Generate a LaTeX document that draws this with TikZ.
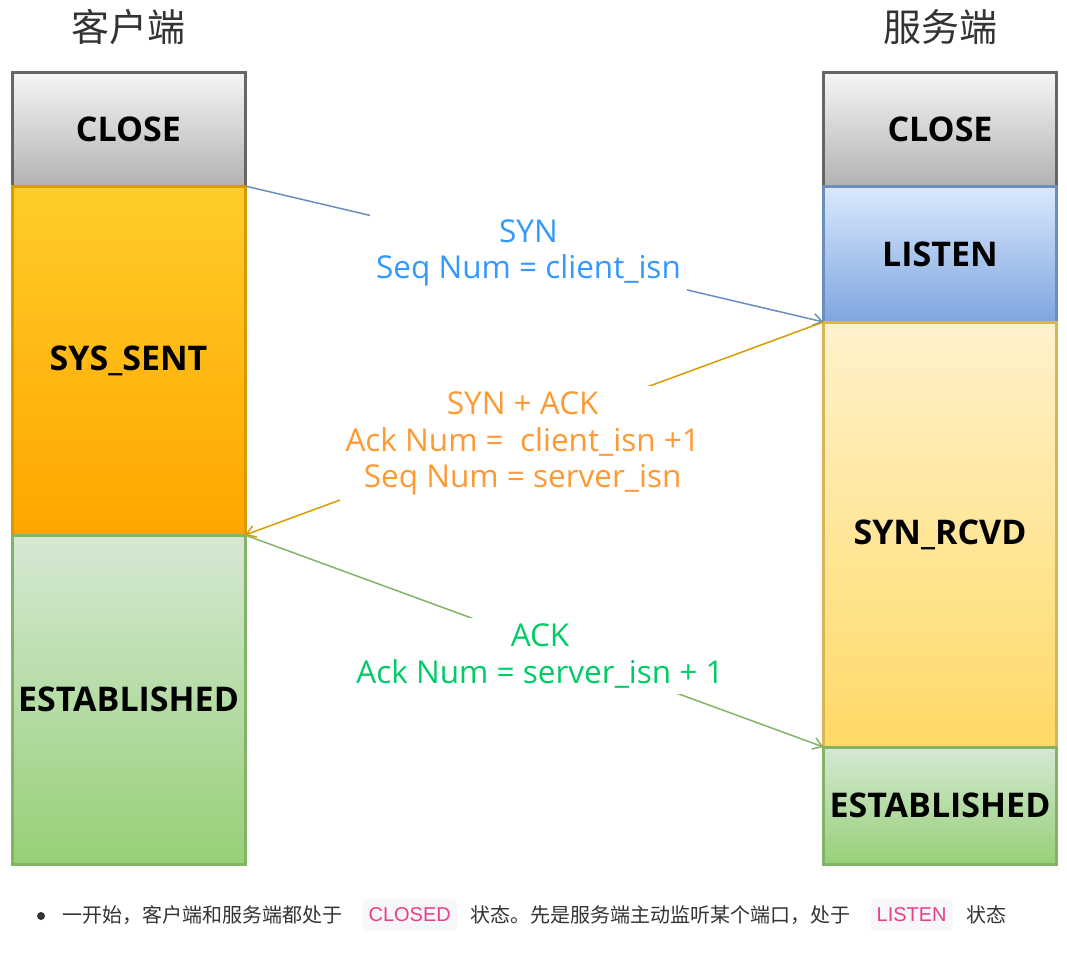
\documentclass[tikz,border=0pt]{standalone}
\usepackage{fontspec}
\setmainfont{Open Sans}
\newfontfamily\cjkfont{Noto Sans CJK SC}
\newfontfamily\codefont{Liberation Sans}
\usetikzlibrary{arrows.meta, positioning}

\definecolor{closetop}{HTML}{F5F5F5}
\definecolor{closebot}{HTML}{B3B3B3}
\definecolor{closeline}{HTML}{666666}
\definecolor{senttop}{HTML}{FFCD28}
\definecolor{sentbot}{HTML}{FFA500}
\definecolor{sentline}{HTML}{D79B00}
\definecolor{listentop}{HTML}{DAE8FC}
\definecolor{listenbot}{HTML}{7EA6E0}
\definecolor{listenline}{HTML}{6C8EBF}
\definecolor{rcvdtop}{HTML}{FFF2CC}
\definecolor{rcvdbot}{HTML}{FFD966}
\definecolor{rcvdline}{HTML}{D6B656}
\definecolor{esttop}{HTML}{D5E8D4}
\definecolor{estbot}{HTML}{97D077}
\definecolor{estline}{HTML}{82B366}
\definecolor{synblue}{HTML}{3399FF}
\definecolor{synackorange}{HTML}{FF9933}
\definecolor{ackgreen}{HTML}{00CC66}
\definecolor{inktext}{HTML}{333333}
\definecolor{codepink}{HTML}{E83E8C}
\definecolor{codebg}{HTML}{F7F7F9}

\begin{document}
\begin{tikzpicture}[x=1pt, y=-1pt,
  state/.style={rectangle, draw, line width=3pt, outer sep=0pt,
                minimum width=233pt, font=\fontsize{34}{38}\selectfont\bfseries},
  closebox/.style={top color=closetop, bottom color=closebot, draw=closeline},
  sentbox/.style={top color=senttop, bottom color=sentbot, draw=sentline},
  listenbox/.style={top color=listentop, bottom color=listenbot, draw=listenline},
  rcvdbox/.style={top color=rcvdtop, bottom color=rcvdbot, draw=rcvdline},
  estbox/.style={top color=esttop, bottom color=estbot, draw=estline},
  msg/.style={-{Straight Barb[length=9pt, width=12pt]}, line width=1.5pt},
  msglabel/.style={fill=white, align=center, inner sep=6pt,
                   font=\fontsize{31.5}{36.5}\selectfont},
  title/.style={font=\cjkfont\fontsize{38}{42}\selectfont, text=inktext},
  note/.style={font=\cjkfont\fontsize{20}{24}\selectfont, text=inktext, inner sep=0pt},
  codebox/.style={font=\codefont\fontsize{20}{24}\selectfont, text=codepink, fill=codebg,
                  rounded corners=5pt, inner xsep=6pt, minimum height=32pt}
]
\useasboundingbox (0,0) rectangle (1067,958);

% titles
\node[title] (ctitle) at (128,27) {客户端};
\node[title] (stitle) at (940,27) {服务端};

% client states
\node[state, closebox, minimum height=114pt] (cclose) at (128.5,129) {CLOSE};
\node[state, sentbox, minimum height=349pt, below=0pt of cclose] (csent) {SYS\_SENT};
\node[state, estbox, minimum height=329pt, below=0pt of csent] (cest) {ESTABLISHED};

% server states
\node[state, closebox, minimum height=114pt] (sclose) at (940,129) {CLOSE};
\node[state, listenbox, minimum height=136pt, below=0pt of sclose] (slisten) {LISTEN};
\node[state, rcvdbox, minimum height=425pt, below=0pt of slisten] (srcvd) {SYN\_RCVD};
\node[state, estbox, minimum height=117pt, below=0pt of srcvd] (sest) {ESTABLISHED};

% handshake
\draw[msg, listenline] (cclose.south east) -- node[msglabel, text=synblue, pos=0.49] (synlbl)
  {SYN\\Seq Num = client\_isn} (slisten.south west);
\draw[msg, sentline] (srcvd.north west) -- node[msglabel, text=synackorange, pos=0.52, yshift=-11pt] (synacklbl)
  {SYN + ACK\\Ack Num = \ client\_isn +1\\Seq Num = server\_isn} (csent.south east);
\draw[msg, estline] (cest.north east) -- node[msglabel, text=ackgreen, pos=0.51, yshift=-13pt] (acklbl)
  {ACK\\Ack Num = server\_isn + 1} (sest.north west);

% note below
\fill[inktext] (41,916) circle (4pt);
\node[note, anchor=west] (t1) at (62,915) {一开始，客户端和服务端都处于};
\node[codebox, right=20pt of t1] (c1) {CLOSED};
\node[note, right=13pt of c1] (t2) {状态。先是服务端主动监听某个端口，处于};
\node[codebox, right=20pt of t2] (c2) {LISTEN};
\node[note, right=13pt of c2] (t3) {状态};
\end{tikzpicture}
\end{document}
